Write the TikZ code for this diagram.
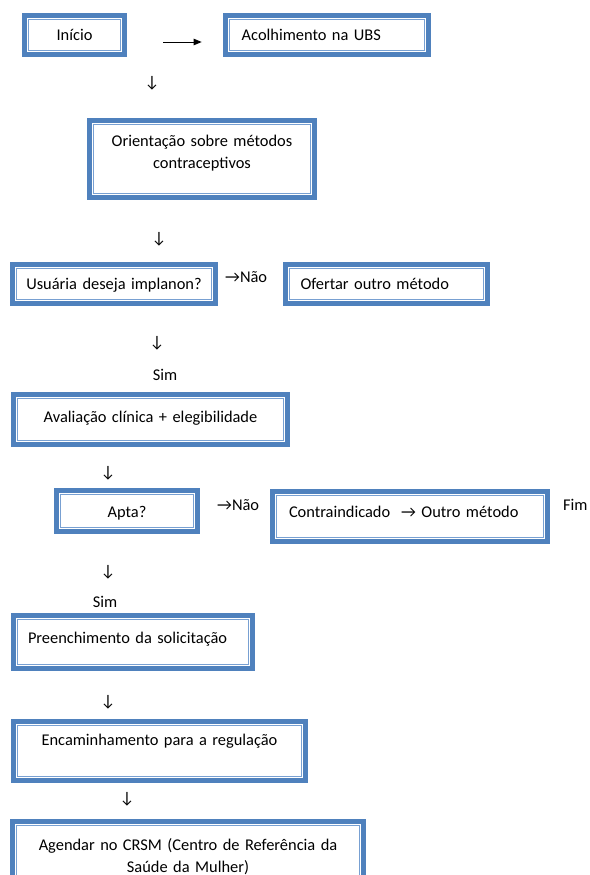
\documentclass[tikz,border=0pt]{standalone}
\usepackage{fontspec}
\setmainfont{Carlito}
\usepackage{tikz}
\usetikzlibrary{arrows.meta}
\definecolor{azul}{RGB}{79,129,189}
\definecolor{azulclaro}{RGB}{120,160,210}
\tikzset{
  etapa/.style={draw=azul, line width=4.7pt, fill=white, inner xsep=8pt, inner ysep=0pt,
    font=\fontsize{16.4}{22}\selectfont, align=center,
    path picture={\draw[azulclaro, line width=1.3pt]
      ([xshift=4.4pt,yshift=-4.4pt]path picture bounding box.north west) rectangle
      ([xshift=-4.4pt,yshift=4.4pt]path picture bounding box.south east);}},
  rotulo/.style={inner sep=0pt, font=\fontsize{16.4}{22}\selectfont}
}

\begin{document}
\begin{tikzpicture}[x=1pt, y=-1pt]
	\clip (0,0) rectangle (589,875);
	% caixas do fluxo
	\node[etapa, text width=84.3pt, text height=25.65pt, text depth=13.65pt] (inicio) at (74.5,35) {Início};
	\node[etapa, inner xsep=16.35pt, align=left, text width=170.6pt, text height=25.65pt, text depth=13.65pt] (acolhimento) at (327,35) {Acolhimento na UBS};
	\node[etapa, text width=209.3pt, text height=25.65pt, text depth=51.65pt] (orientacao) at (202,159) {Orientação sobre métodos\\contraceptivos};
	\node[etapa, text width=187.3pt, text height=24.65pt, text depth=14.65pt] (deseja) at (114,284) {Usuária deseja implanon?};
	\node[etapa, inner xsep=15.15pt, align=left, text width=172pt, text height=24.65pt, text depth=14.65pt] (ofertar) at (386.5,284) {Ofertar outro método};
	\node[etapa, text width=258.3pt, text height=27.65pt, text depth=22.65pt] (avaliacao) at (150.5,419.5) {Avaliação clínica + elegibilidade};
	\node[etapa, text width=125.3pt, text height=26.65pt, text depth=14.65pt] (apta) at (127,511) {Apta?};
	\node[etapa, inner xsep=16.65pt, align=left, text width=242pt, text height=25.65pt, text depth=24.65pt] (contra) at (410,516.5) {Contraindicado\ \ → Outro método};
	\node[etapa, inner xsep=14.65pt, align=left, text width=210pt, text height=27.65pt, text depth=25.65pt] (preenchimento) at (133,642) {Preenchimento da solicitação};
	\node[etapa, text width=276.3pt, text height=23.65pt, text depth=35.65pt] (encaminhamento) at (159.5,751) {Encaminhamento para a regulação};
	\node[etapa, text width=335.3pt, text height=28.65pt, text depth=42.65pt] (agendar) at (188,857) {Agendar no CRSM (Centro de Referência da\\Saúde da Mulher)};
	% setas e respostas escritas
	\draw[-{Triangle[length=8pt,width=6.5pt]}, line width=0.9pt, shorten <=36.35pt, shorten >=21.35pt]
		([yshift=-7pt]inicio.east) -- ([yshift=-7pt]acolhimento.west);
	\node[rotulo] (seta1) at (152,83) {↓};
	\node[rotulo] (seta2) at (159,239) {↓};
	\node[rotulo] (seta3) at (157,343) {↓};
	\node[rotulo, anchor=base west] (nao1) at (225,282) {→Não};
	\node[rotulo, anchor=base] (sim1) at (165,380) {Sim};
	\node[rotulo] (seta4) at (108,473) {↓};
	\node[rotulo, anchor=base west] (nao2) at (217,510) {→Não};
	\node[rotulo, anchor=base west] (fim) at (563,510) {Fim};
	\node[rotulo] (seta5) at (108,572) {↓};
	\node[rotulo, anchor=base] (sim2) at (105,607) {Sim};
	\node[rotulo] (seta6) at (108,702) {↓};
	\node[rotulo] (seta7) at (127,799) {↓};
\end{tikzpicture}
\end{document}
